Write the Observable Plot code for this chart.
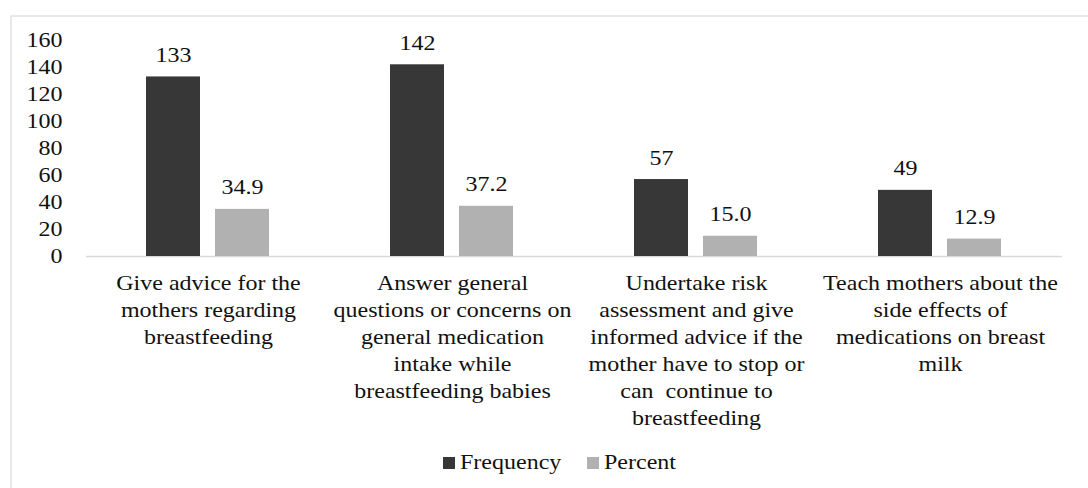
<!DOCTYPE html>
<html>
<head>
<meta charset="utf-8">
<script src="https://cdn.jsdelivr.net/npm/d3@7"></script>
<script src="https://cdn.jsdelivr.net/npm/@observablehq/plot@0.6"></script>
<style>
  html, body { margin: 0; padding: 0; background: #fff; overflow: hidden; }
  body { width: 1088px; height: 488px; position: relative; font-family: "Liberation Serif", "Times New Roman", serif; }
  #frame { position: absolute; left: 10px; top: 15px; width: 1200px; height: 600px;
           border-top: 2px solid #e8e8e8; border-left: 2px solid #e8e8e8; pointer-events: none; }
  #chart { position: absolute; left: 0; top: 0; }
  #legend { position: absolute; left: 443px; top: 451px; display: flex; align-items: center;
            font-size: 20px; color: #111; white-space: nowrap; }
  .item { display: flex; align-items: center; }
  .sw { width: 12px; height: 12px; display: inline-block; margin-right: 5px; }
  .lt { display: inline-block; transform: scaleX(1.2); transform-origin: left center; }
</style>
</head>
<body>
<div id="frame"></div>
<div id="chart"></div>
<div id="legend"></div>
<script>
const categories = [
  "Give advice for the\nmothers regarding\nbreastfeeding",
  "Answer general\nquestions or concerns on\ngeneral medication\nintake while\nbreastfeeding babies",
  "Undertake risk\nassessment and give\ninformed advice if the\nmother have to stop or\ncan  continue to\nbreastfeeding",
  "Teach mothers about the\nside effects of\nmedications on breast\nmilk"
];
const series = ["Frequency", "Percent"];
const frequency = [133, 142, 57, 49];
const percent = [34.9, 37.2, 15.0, 12.9];
const yTicks = [0, 20, 40, 60, 80, 100, 120, 140, 160];
const colors = ["#373737", "#b1b1b1"];

const rows = [];
categories.forEach((c, i) => {
  rows.push({category: c, series: "Frequency", value: frequency[i], label: String(frequency[i])});
  rows.push({category: c, series: "Percent", value: percent[i], label: percent[i].toFixed(1)});
});

const chart = Plot.plot({
  width: 1088,
  height: 440,
  marginLeft: 86,
  marginRight: 26,
  marginTop: 40,
  marginBottom: 184,
  style: {fontFamily: "'Liberation Serif', 'Times New Roman', serif", fontSize: "20px", color: "#111", background: "transparent"},
  fx: {domain: categories, padding: 0, label: null},
  x: {domain: series, paddingInner: 0.217, paddingOuter: 0.876, axis: null},
  y: {domain: [0, 160], label: null},
  color: {domain: series, range: colors},
  marks: [
    Plot.axisY({ticks: yTicks, tickSize: 0, tickPadding: 24, label: null, fontSize: 20}),
    Plot.axisFx({anchor: "bottom", tickSize: 0, tickPadding: 14, label: null, lineHeight: 1.35, fontSize: 20}),
    Plot.ruleY([0], {stroke: "#d9d9d9", strokeWidth: 1.5}),
    Plot.barY(rows, {fx: "category", x: "series", y: "value", fill: "series"}),
    Plot.text(rows, {fx: "category", x: "series", y: "value", text: "label", dy: -15, lineAnchor: "bottom", fontSize: 20, fill: "#111"})
  ]
});

// widen glyphs horizontally (reference text is horizontally stretched)
chart.querySelectorAll("text").forEach(t => {
  let tr = t.getAttribute("transform") || "";
  const x = t.getAttribute("x");
  if (x !== null && isFinite(+x) && +x !== 0) {
    tr += ` translate(${+x},0)`;
    t.removeAttribute("x");
  }
  t.setAttribute("transform", (tr + " scale(1.2,1)").trim());
});
document.getElementById("chart").appendChild(chart);

const legend = document.getElementById("legend");
const gaps = [25, 0];
series.forEach((s, i) => {
  const item = document.createElement("span");
  item.className = "item";
  const sw = document.createElement("span");
  sw.className = "sw";
  sw.style.background = colors[i];
  const t = document.createElement("span");
  t.className = "lt";
  t.textContent = s;
  item.appendChild(sw);
  item.appendChild(t);
  legend.appendChild(item);
  const w = t.getBoundingClientRect().width; // already scaled
  t.style.marginRight = (w - t.offsetWidth + gaps[i]) + "px";
});
</script>
</body>
</html>
